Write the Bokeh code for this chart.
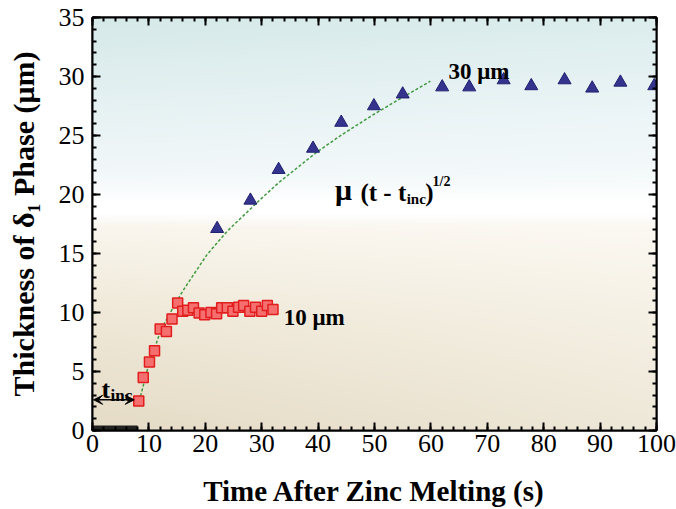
import numpy as np
from bokeh.plotting import figure
from bokeh.models import (Range1d, LinearAxis, SingleIntervalTicker, Arrow, VeeHead,
                          CustomJSTickFormatter)
from bokeh.core.properties import value
from bokeh.embed import file_html
from bokeh.resources import INLINE

# ---- data ----
sq_t = [8.2, 9.0, 10.1, 11.0, 12.0, 13.1, 14.1, 15.1, 16.0, 16.9, 17.9, 18.9, 19.9,
        21.0, 22.0, 22.9, 23.9, 24.9, 25.9, 26.8, 27.9, 28.9, 30.0, 31.0, 32.0]
sq_y = [2.5, 4.5, 5.8, 6.75, 8.6, 8.4, 9.45, 10.8, 10.1, 10.2, 10.4, 9.95, 9.8,
        10.0, 9.9, 10.4, 10.4, 10.1, 10.45, 10.6, 10.1, 10.45, 10.1, 10.6, 10.25]

tri_t = [22.1, 28.0, 33.0, 39.1, 44.1, 49.9, 55.0, 62.0, 66.8, 72.9, 77.8, 83.7, 88.6, 93.6, 99.6]
tri_y = [17.1, 19.5, 22.1, 23.9, 26.1, 27.5, 28.5, 29.1, 29.1, 29.7, 29.2, 29.7, 29.0, 29.5, 29.2]

fit_t = [8.3, 9.7, 12.1, 13.8, 15.6, 16.8, 20.3, 23.9, 27.4, 29.8, 33.0, 39.8, 44.0, 49.9, 55.2, 59.9]
fit_y = [2.5, 5.1, 8.5, 10.0, 11.5, 12.4, 14.9, 16.9, 18.5, 19.6, 21.0, 23.6, 25.0, 26.8, 28.3, 29.6]

t_inc = 8.0
x_ticks_interval = 10
y_ticks_interval = 5
x_min, x_max = 0, 100
y_min, y_max = 0, 35

SERIF = value("Liberation Serif")

p = figure(width=676, height=509, output_backend="svg", toolbar_location=None,
           x_range=Range1d(x_min, x_max), y_range=Range1d(y_min, y_max),
           min_border_left=92, min_border_right=20, min_border_top=17, min_border_bottom=79)
p.background_fill_color = "white"
p.border_fill_color = "white"
p.outline_line_color = "black"
p.outline_line_width = 2
p.grid.visible = False

# gradient background (vertical profile, left and right edge colours)
stops_y = [0.0, 10.0, 17.3, 18.3, 19.5, 21.5, 27.0, 35.0]
left_c = [(229, 219, 198), (240, 233, 217), (250, 246, 238), (255, 255, 255), (255, 255, 255),
          (243, 248, 250), (231, 242, 243), (214, 233, 233)]
right_c = [(238, 232, 216), (245, 241, 229), (252, 249, 243), (255, 255, 255), (255, 255, 255),
           (245, 250, 251), (236, 245, 247), (220, 237, 237)]
ny, nx = 350, 60
ys = np.linspace(y_min, y_max, ny)
lc = np.array([[np.interp(yv, stops_y, [c[k] for c in left_c]) for k in range(3)] for yv in ys])
rc = np.array([[np.interp(yv, stops_y, [c[k] for c in right_c]) for k in range(3)] for yv in ys])
fx = np.linspace(0, 1, nx)
img = np.zeros((ny, nx), dtype=np.uint32)
view = img.view(dtype=np.uint8).reshape((ny, nx, 4))
for j in range(nx):
    col = lc + (rc - lc) * fx[j]
    view[:, j, 0] = col[:, 0].astype(np.uint8)
    view[:, j, 1] = col[:, 1].astype(np.uint8)
    view[:, j, 2] = col[:, 2].astype(np.uint8)
    view[:, j, 3] = 255
p.image_rgba(image=[img], x=x_min, y=y_min, dw=x_max - x_min, dh=y_max - y_min)

# incubation bar on the time axis
p.line(x=[x_min, t_inc], y=[y_min, y_min], line_color="#222222", line_width=10)

# fit curve
p.line(x=fit_t, y=fit_y, line_color="#3f9a3f", line_width=1.5, line_dash="3 2")

# data
p.scatter(x=sq_t, y=sq_y, marker="square", size=10, fill_color="#f56f6f",
          line_color="#e11d1d", line_width=1.5)
p.scatter(x=tri_t, y=tri_y, marker="triangle", size=13, fill_color="#34348e",
          line_color="#202070", line_width=1)

# arrow t_inc
p.add_layout(Arrow(x_start=0.2, y_start=2.6, x_end=t_inc - 0.6, y_end=2.6,
                   line_width=1.5, line_color="black",
                   start=VeeHead(size=9, fill_color="black", line_color="black"),
                   end=VeeHead(size=9, fill_color="black", line_color="black")))

def txt(x, y, s, size, style="bold"):
    p.text(x=[x], y=[y], text=[s], text_font=SERIF, text_font_size=size,
           text_font_style=style, text_color="black", text_align="left",
           text_baseline="alphabetic")

txt(1.6, 3.45, "t", "26px")
txt(3.2, 3.0, "inc", "17px")
txt(33.9, 9.6, "10 \u03bcm", "23px")
txt(63.1, 30.4, "30 \u03bcm", "23px")
txt(43.0, 20.4, "\u03bc", "30px")
txt(47.5, 20.17, "(t - t", "25px")
txt(55.7, 19.66, "inc", "15px")
txt(59.0, 20.17, ")", "25px")
txt(60.3, 21.1, "1/2", "14px")

# axes
for ax in (p.xaxis[0], p.yaxis[0]):
    ax.major_tick_in = 8; ax.major_tick_out = 0
    ax.minor_tick_in = 4; ax.minor_tick_out = 0
    ax.axis_line_width = 2; ax.major_tick_line_width = 2; ax.minor_tick_line_width = 2
    ax.major_label_text_font = "Liberation Serif"
    ax.major_label_text_font_size = "26px"
    ax.major_label_text_color = "black"
    ax.axis_label_text_font = "Liberation Serif"
    ax.axis_label_text_font_style = "bold"
    ax.axis_label_text_color = "black"
p.xaxis[0].axis_label_text_font_size = "29px"
p.yaxis[0].axis_label_text_font_size = "30px"
p.xaxis[0].ticker = SingleIntervalTicker(interval=x_ticks_interval, num_minor_ticks=5)
p.yaxis[0].ticker = SingleIntervalTicker(interval=y_ticks_interval, num_minor_ticks=5)
p.xaxis[0].axis_label = "Time After Zinc Melting (s)"
p.yaxis[0].axis_label = "Thickness of \u03b4\u2081 Phase (\u03bcm)"
p.xaxis[0].major_label_standoff = 4
p.yaxis[0].major_label_standoff = 8
p.xaxis[0].axis_label_standoff = 20
p.yaxis[0].axis_label_standoff = 16

for loc, interval in (("right", y_ticks_interval), ("above", x_ticks_interval)):
    ax = LinearAxis(ticker=SingleIntervalTicker(interval=interval, num_minor_ticks=5))
    ax.major_tick_in = 8; ax.major_tick_out = 0
    ax.minor_tick_in = 4; ax.minor_tick_out = 0
    ax.axis_line_width = 2; ax.major_tick_line_width = 2; ax.minor_tick_line_width = 2
    ax.formatter = CustomJSTickFormatter(code="return '';")
    ax.major_label_text_color = None
    ax.major_label_standoff = 0
    p.add_layout(ax, loc)

open("out.html", "w").write(file_html(p, INLINE))
